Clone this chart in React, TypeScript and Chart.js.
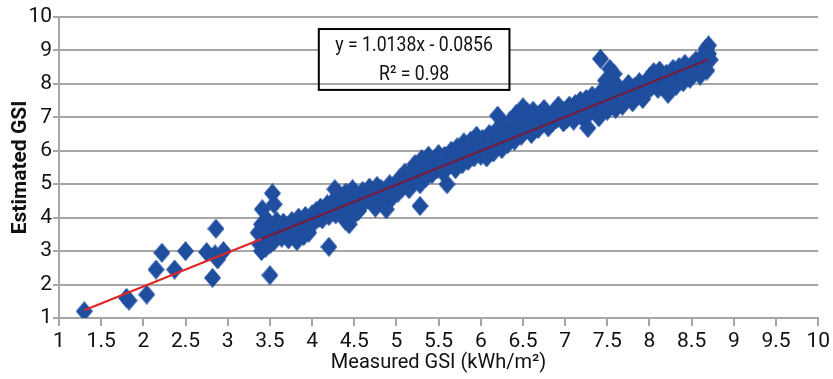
import React, { useEffect, useRef } from "react";
import { Chart, registerables } from "chart.js";

Chart.register(...registerables);

// Measured GSI (x) vs Estimated GSI (y), grouped by x range
const sparsePoints: number[][] = [
  [1.3, 1.2], [1.8, 1.6], [1.83, 1.52], [2.04, 1.7], [2.15, 2.45], [2.22, 2.95],
  [2.37, 2.45], [2.5, 3.0], [2.75, 2.97], [2.86, 3.67], [2.82, 2.2], [2.88, 2.75],
  [2.95, 3.0], [2.85, 2.9],
];
const points34: number[][] = [
  [3.36, 3.55], [3.38, 3.2], [3.4, 3.0], [3.4, 3.8], [3.41, 4.25], [3.42, 3.45],
  [3.44, 3.65], [3.45, 3.1], [3.46, 3.95], [3.48, 3.35], [3.5, 3.55], [3.5, 3.2],
  [3.52, 3.75], [3.53, 4.73], [3.55, 4.4], [3.55, 3.3], [3.57, 3.6], [3.58, 3.9],
  [3.6, 3.45], [3.5, 2.28],
  [3.62, 3.7], [3.64, 3.4], [3.66, 3.85], [3.68, 3.55], [3.7, 3.75], [3.72, 3.35],
  [3.74, 3.6], [3.76, 3.9], [3.78, 3.5], [3.8, 3.7], [3.82, 3.3], [3.84, 4.0],
  [3.86, 3.65], [3.88, 3.85], [3.9, 3.45], [3.92, 4.05], [3.94, 3.75], [3.96, 3.55],
  [3.98, 3.95],
];
const points45: number[][] = [
  [4.0, 4.1], [4.02, 3.85], [4.05, 4.2], [4.08, 4.0], [4.1, 4.3], [4.12, 3.95],
  [4.15, 4.15], [4.18, 4.4], [4.2, 3.13], [4.2, 4.05], [4.22, 4.25], [4.25, 4.5],
  [4.27, 4.85], [4.28, 4.1], [4.3, 4.35], [4.32, 4.7], [4.35, 4.2], [4.37, 4.55],
  [4.4, 3.9], [4.4, 4.75], [4.42, 4.3], [4.44, 3.8], [4.45, 4.6], [4.47, 4.0],
  [4.48, 4.85],
  [4.5, 4.4], [4.52, 4.7], [4.55, 4.2], [4.57, 4.55], [4.6, 4.8], [4.62, 4.45],
  [4.65, 4.65], [4.68, 4.9], [4.7, 4.5], [4.73, 4.75], [4.75, 4.3], [4.77, 4.95],
  [4.8, 4.6], [4.82, 4.85], [4.85, 4.45], [4.88, 4.25], [4.9, 4.75], [4.92, 5.0],
  [4.95, 4.6], [4.98, 4.85],
];
const points56: number[][] = [
  [5.0, 5.05], [5.02, 4.75], [5.05, 5.2], [5.07, 4.9], [5.1, 5.35], [5.12, 5.1],
  [5.15, 4.85], [5.18, 5.4], [5.2, 5.15], [5.22, 5.6], [5.25, 5.3], [5.28, 4.35],
  [5.28, 5.0], [5.3, 5.75], [5.32, 5.45], [5.35, 5.2], [5.38, 5.85], [5.4, 5.55],
  [5.42, 5.3], [5.45, 5.75], [5.48, 5.45], [5.5, 5.9],
  [5.52, 5.6], [5.55, 5.35], [5.57, 5.85], [5.6, 5.0], [5.62, 5.55], [5.65, 6.0],
  [5.67, 5.75], [5.7, 5.45], [5.72, 6.1], [5.75, 5.85], [5.78, 5.6], [5.8, 6.25],
  [5.82, 5.95], [5.85, 5.7], [5.88, 6.3], [5.9, 6.05], [5.92, 5.8], [5.95, 6.45],
  [5.97, 6.15], [6.0, 5.85],
];
const points67: number[][] = [
  [6.02, 6.35], [6.05, 6.05], [6.07, 5.8], [6.1, 6.5], [6.12, 6.2], [6.15, 5.95],
  [6.18, 6.6], [6.2, 7.05], [6.22, 6.3], [6.25, 6.05], [6.28, 6.75], [6.3, 6.45],
  [6.32, 6.2], [6.35, 6.9], [6.38, 6.55], [6.4, 6.3], [6.42, 7.1], [6.45, 6.75],
  [6.48, 6.45], [6.5, 7.3], [6.5, 6.9],
  [6.52, 6.6], [6.55, 7.15], [6.57, 6.85], [6.6, 6.5], [6.62, 7.2], [6.65, 6.95],
  [6.68, 6.65], [6.7, 7.1], [6.72, 6.8], [6.75, 7.25], [6.78, 6.95], [6.8, 6.7],
  [6.82, 7.05], [6.85, 6.85], [6.88, 7.2], [6.9, 6.95], [6.92, 7.35], [6.95, 7.05],
  [6.98, 6.85],
];
const points78: number[][] = [
  [7.0, 7.2], [7.02, 6.95], [7.05, 7.35], [7.08, 7.1], [7.1, 6.9], [7.12, 7.4],
  [7.15, 7.15], [7.18, 7.5], [7.2, 7.0], [7.22, 7.3], [7.25, 7.55], [7.27, 6.68],
  [7.28, 7.1], [7.3, 7.4], [7.32, 7.65], [7.35, 7.2], [7.38, 7.5], [7.4, 7.0],
  [7.42, 8.75], [7.42, 7.75], [7.45, 7.35], [7.48, 7.6], [7.5, 7.2], [7.53, 8.45],
  [7.58, 8.3], [7.48, 8.1],
  [7.52, 7.85], [7.55, 7.45], [7.58, 7.7], [7.6, 7.25], [7.62, 7.95], [7.65, 7.55],
  [7.68, 7.35], [7.7, 7.8], [7.72, 7.6], [7.75, 8.0], [7.78, 7.7], [7.8, 7.45],
  [7.82, 7.9], [7.85, 7.65], [7.88, 8.05], [7.9, 7.75], [7.92, 7.55], [7.95, 8.0],
  [7.98, 7.8],
];
const points89: number[][] = [
  [8.0, 8.2], [8.02, 7.9], [8.05, 8.35], [8.08, 8.1], [8.1, 7.85], [8.12, 8.4],
  [8.15, 8.15], [8.18, 7.95], [8.2, 8.3], [8.22, 7.7], [8.25, 8.05], [8.28, 8.45],
  [8.3, 8.2], [8.32, 7.95], [8.35, 8.5], [8.38, 8.25], [8.4, 8.05], [8.42, 8.6],
  [8.45, 8.35], [8.48, 8.15], [8.5, 8.55],
  [8.52, 8.3], [8.55, 8.7], [8.57, 8.45], [8.6, 8.25], [8.62, 8.8], [8.65, 8.55],
  [8.67, 9.05], [8.68, 8.4], [8.7, 8.9], [8.72, 8.72], [8.7, 9.15],
];

// Linear trendline y = 1.0138x - 0.0856 (endpoints + break where the cloud begins)
const trendX = [1.3, 3.4, 8.7];
const trendY = [1.2323, 3.3613, 8.7345];

const xTicksMin = 1;
const xTicksMax = 10;
const xTickStep = 0.5;
const yTicksMin = 1;
const yTicksMax = 10;
const yTickStep = 1;

const equationLines = ["y = 1.0138x - 0.0856", "R\u00b2 = 0.98"];
const xTitle = "Measured GSI (kWh/m\u00b2)";
const yTitle = "Estimated GSI";

const FONT = "Roboto, 'Noto Sans', sans-serif";
const BLUE = "#1f4e9f";

export default function App() {
  const ref = useRef<HTMLCanvasElement | null>(null);

  useEffect(() => {
    document.body.style.margin = "0";
    const canvas = ref.current;
    if (!canvas) return;

    const marker = document.createElement("canvas");
    marker.width = 17;
    marker.height = 20;
    const mctx = marker.getContext("2d")!;
    mctx.fillStyle = BLUE;
    mctx.beginPath();
    mctx.moveTo(8.5, 0);
    mctx.lineTo(17, 10);
    mctx.lineTo(8.5, 20);
    mctx.lineTo(0, 10);
    mctx.closePath();
    mctx.fill();

    const allPoints = [
      ...sparsePoints, ...points34, ...points45, ...points56,
      ...points67, ...points78, ...points89,
    ].map(([x, y]) => ({ x, y }));
    const trend = trendX.map((x, i) => ({ x, y: trendY[i] }));

    const annotation = {
      id: "eqbox",
      afterDatasetsDraw(chart: any) {
        const { ctx, scales } = chart;
        const xs = scales.x, ys = scales.y;
        const l = xs.getPixelForValue(4.08);
        const r = xs.getPixelForValue(6.34);
        const t = ys.getPixelForValue(9.64);
        const b = ys.getPixelForValue(7.82);
        ctx.save();
        ctx.fillStyle = "#ffffff";
        ctx.fillRect(l, t, r - l, ys.getPixelForValue(8.05) - t);
        ctx.strokeStyle = "#000000";
        ctx.lineWidth = 2;
        ctx.strokeRect(l, t, r - l, b - t);
        ctx.fillStyle = "#111111";
        ctx.font = `21px ${FONT}`;
        ctx.textAlign = "center";
        ctx.textBaseline = "middle";
        const cx = (l + r) / 2;
        const sx = 0.84;
        ctx.scale(sx, 1);
        ctx.fillText(equationLines[0], cx / sx, ys.getPixelForValue(9.14));
        ctx.fillText(equationLines[1], cx / sx, ys.getPixelForValue(8.27));
        ctx.restore();
      },
    };

    const fmt = (v: any) => String(Math.round(Number(v) * 10) / 10);
    const gridColor = "#a6a6a6";
    const chart = new Chart(canvas, {
      type: "scatter",
      data: {
        datasets: [
          {
            type: "line",
            data: trend,
            showLine: true,
            pointRadius: 0,
            borderWidth: 2,
            borderColor: "#e02424",
            segment: {
              borderColor: (c: any) => (c.p0DataIndex === 0 ? "#e02424" : "#7a1838"),
            },
            order: 0,
          } as any,
          {
            data: allPoints,
            pointStyle: marker,
            pointRadius: 9,
            backgroundColor: BLUE,
            borderColor: BLUE,
            order: 1,
          } as any,
        ],
      },
      options: {
        animation: false,
        responsive: false,
        events: [],
        layout: { padding: { left: 0, right: 12, top: 17, bottom: 0 } },
        plugins: { legend: { display: false }, tooltip: { enabled: false } },
        scales: {
          x: {
            type: "linear",
            min: xTicksMin,
            max: xTicksMax,
            afterFit: (s: any) => { s.height = 61; },
            ticks: {
              stepSize: xTickStep,
              color: "#111",
              padding: 3,
              font: { family: FONT, size: 21 },
              maxRotation: 0,
              autoSkip: false,
              callback: fmt,
            },
            grid: {
              drawOnChartArea: false,
              drawTicks: true,
              tickLength: 8,
              color: gridColor,
              lineWidth: 2,
            },
            border: { display: true, color: gridColor, width: 2 },
            title: {
              display: true,
              text: xTitle,
              color: "#111",
              font: { family: FONT, size: 20 },
              padding: { top: 0, bottom: 4 },
            },
          },
          y: {
            type: "linear",
            min: yTicksMin,
            max: yTicksMax,
            afterFit: (s: any) => { s.width = 59; },
            ticks: {
              stepSize: yTickStep,
              color: "#111",
              padding: 1,
              font: { family: FONT, size: 21 },
              callback: fmt,
            },
            grid: {
              drawTicks: true,
              tickLength: 6,
              color: gridColor,
              lineWidth: 2,
            },
            border: { display: true, color: gridColor, width: 2 },
            title: {
              display: true,
              text: yTitle,
              color: "#111",
              font: { family: FONT, size: 21, weight: "bold" },
              padding: { top: 8, bottom: 0 },
            },
          },
        },
      },
      plugins: [annotation],
    });

    return () => chart.destroy();
  }, []);

  return (
    <div style={{ width: 833, height: 379 }}>
      <canvas ref={ref} width={833} height={379} style={{ display: "block" }} />
    </div>
  );
}
